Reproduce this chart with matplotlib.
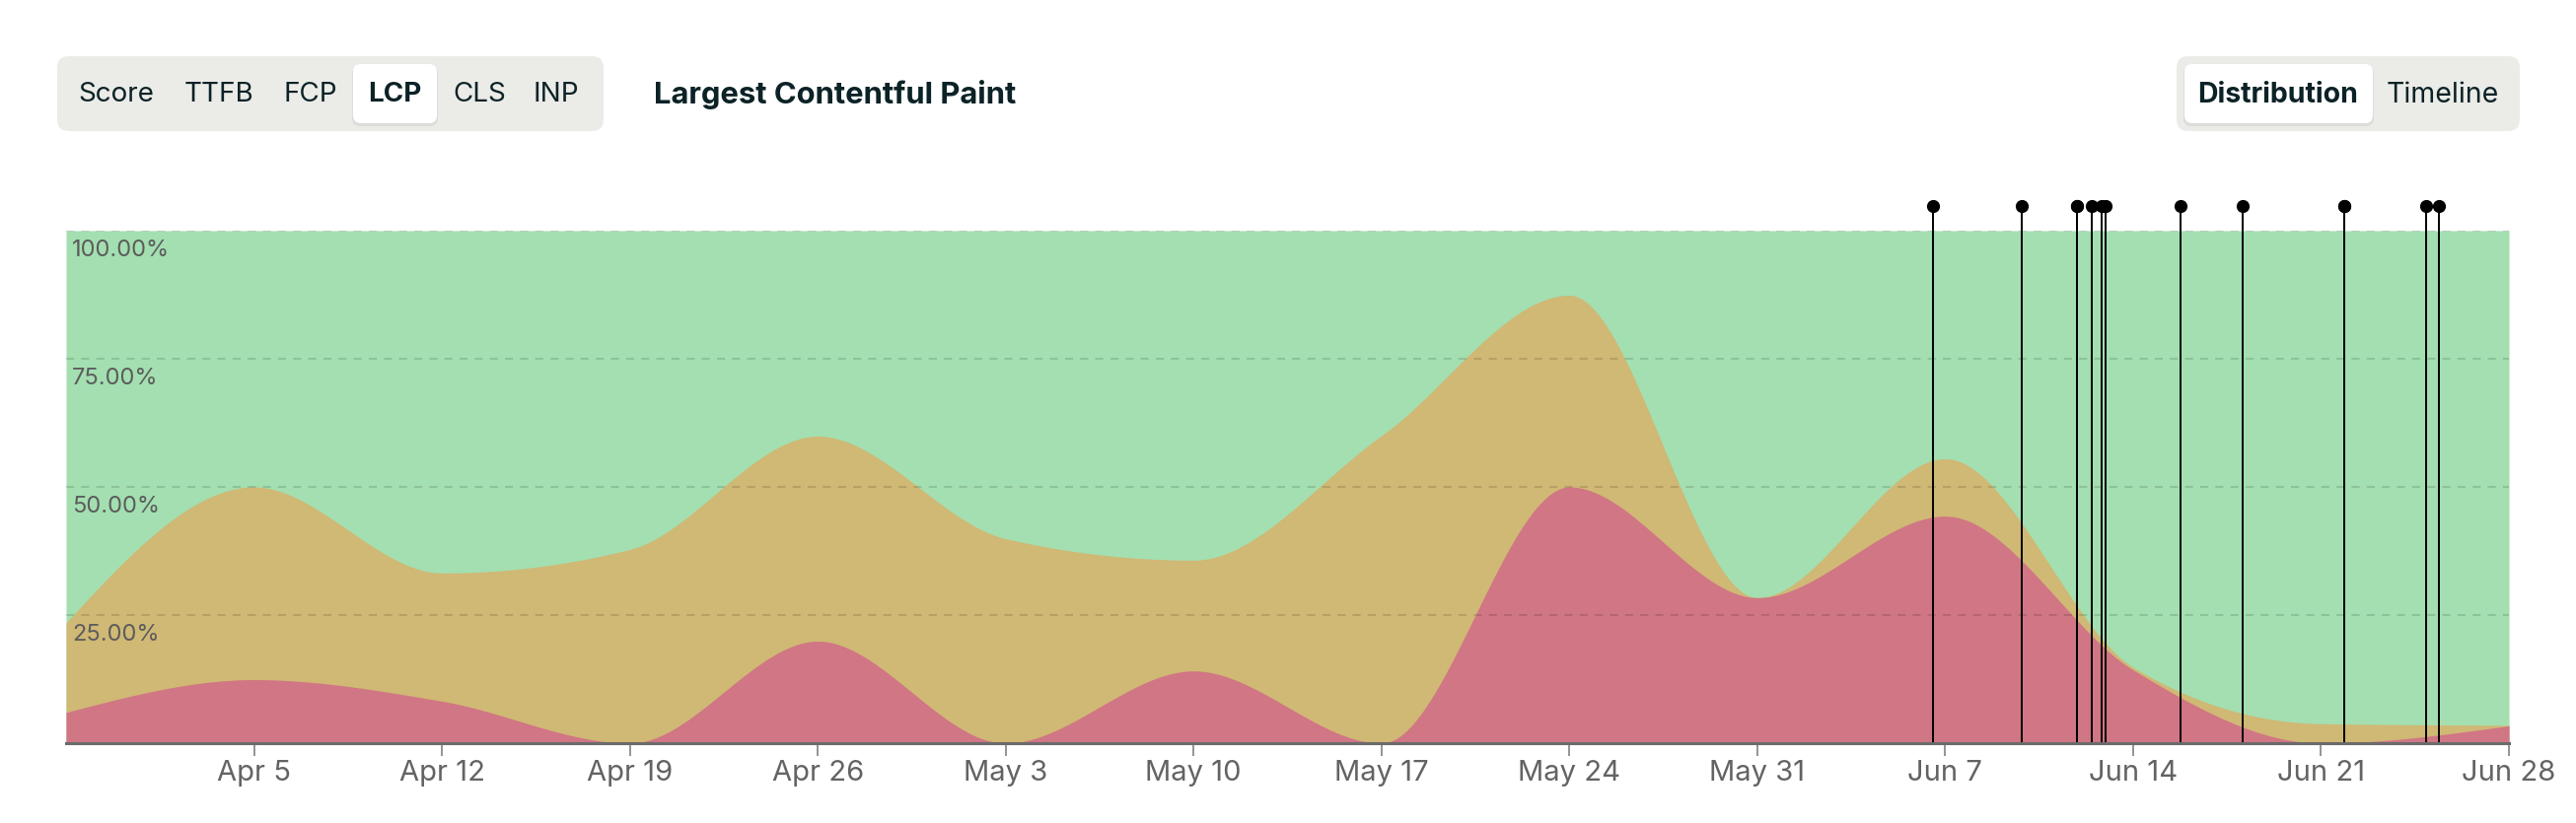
import numpy as np
import pandas as pd
import matplotlib
matplotlib.use("Agg")
import matplotlib.pyplot as plt
import matplotlib.dates as mdates
from matplotlib.patches import FancyBboxPatch
from matplotlib.transforms import offset_copy

plt.rcParams["font.family"] = ["Inter", "DejaVu Sans"]

# weekly LCP distribution (percent of page loads)
weeks = ["2024-03-29", "2024-04-05", "2024-04-12", "2024-04-19", "2024-04-26",
         "2024-05-03", "2024-05-10", "2024-05-17", "2024-05-24", "2024-05-31",
         "2024-06-07", "2024-06-14", "2024-06-21", "2024-06-28"]
poorPct = [6.0, 12.4, 8.2, 0.0, 19.9, 0.0, 14.1, 0.0, 50.0, 28.4, 44.3, 14.3, 0.0, 3.4]
needsImprovementPct = [17.5, 37.6, 25.0, 37.8, 40.0, 39.9, 21.6, 60.0, 37.4, 0.0, 11.2, 0.5, 3.8, 0.1]

# deploy markers
deployTimes = ["2024-06-06 13:00", "2024-06-09 20:30", "2024-06-11 21:30", "2024-06-11 21:40",
               "2024-06-12 11:00", "2024-06-12 20:00", "2024-06-12 23:20", "2024-06-15 18:10",
               "2024-06-18 02:00", "2024-06-21 20:30", "2024-06-21 20:45", "2024-06-24 21:50",
               "2024-06-25 09:20"]

tickLabels = ["Apr 5", "Apr 12", "Apr 19", "Apr 26", "May 3", "May 10", "May 17",
              "May 24", "May 31", "Jun 7", "Jun 14", "Jun 21", "Jun 28"]
yTicks = [25, 50, 75, 100]

metricTabs = ["Score", "TTFB", "FCP", "LCP", "CLS", "INP"]
activeTab = "LCP"
chartTitle = "Largest Contentful Paint"
viewTabs = ["Distribution", "Timeline"]
activeView = "Distribution"

GOOD = "#a3dfb0"
NEEDS = "#d0b875"
POOR = "#d07684"
INK = "#0b2226"


def monotoneCurve(x, y, steps=60):
    # same idea as d3.curveMonotoneX
    x = np.asarray(x, float)
    y = np.asarray(y, float)
    n = len(x)
    h = np.diff(x)
    s = np.diff(y) / h
    t = np.zeros(n)
    for i in range(1, n - 1):
        p = (s[i - 1] * h[i] + s[i] * h[i - 1]) / (h[i - 1] + h[i])
        t[i] = (np.sign(s[i - 1]) + np.sign(s[i])) * min(abs(s[i - 1]), abs(s[i]), 0.5 * abs(p))
    t[0] = (3 * s[0] - t[1]) / 2
    t[-1] = (3 * s[-1] - t[-2]) / 2
    xs, ys = [], []
    u = np.linspace(0, 1, steps)
    for i in range(n - 1):
        h00 = 2 * u**3 - 3 * u**2 + 1
        h10 = u**3 - 2 * u**2 + u
        h01 = -2 * u**3 + 3 * u**2
        h11 = u**3 - u**2
        xs.append(x[i] + u * h[i])
        ys.append(h00 * y[i] + h10 * h[i] * t[i] + h01 * y[i + 1] + h11 * h[i] * t[i + 1])
    return np.concatenate(xs), np.concatenate(ys)


fig = plt.figure(figsize=(26.12, 8.35), dpi=100)
fig.patch.set_facecolor("white")
ax = fig.add_axes([67 / 2612, 81 / 835, 2477 / 2612, 520 / 835])

xDates = mdates.date2num(pd.to_datetime(weeks))
poor = np.array(poorPct)
top = poor + np.array(needsImprovementPct)

cx, poorCurve = monotoneCurve(xDates, poor)
_, topCurve = monotoneCurve(xDates, top)

ax.fill_between(cx, 0, 100, color=GOOD, linewidth=0, zorder=1)
ax.fill_between(cx, 0, topCurve, color=NEEDS, linewidth=0, zorder=2)
ax.fill_between(cx, 0, np.clip(poorCurve, 0, None), color=POOR, linewidth=0, zorder=3)

ax.set_xlim(xDates[0], xDates[-1])
ax.set_ylim(0, 100)

for v in yTicks:
    ax.axhline(v, color="black", alpha=0.14, linewidth=1.3, dashes=(4.5, 4), zorder=4)
    ax.text(xDates[0], v, f"{v:.2f}%", fontsize=17, color="#5c5c5c", ha="left", va="top",
            transform=offset_copy(ax.transData, fig=fig, x=4.5, y=-6.5, units="points"), zorder=5)

deployNums = mdates.date2num(pd.to_datetime(deployTimes))
for d in deployNums:
    ax.plot([d, d], [0, 104.8], color="black", linewidth=1.4, clip_on=False, zorder=6)
    ax.plot([d], [104.8], marker="o", markersize=8.5, color="black", clip_on=False, zorder=7)

ax.set_xticks(xDates[1:])
ax.set_xticklabels(tickLabels)
ax.set_yticks([])
ax.tick_params(axis="x", length=9, width=1.1, color="#777777", labelsize=21,
               labelcolor="#636363", pad=3.5)
for side in ["top", "left", "right"]:
    ax.spines[side].set_visible(False)
ax.spines["bottom"].set_color("#6b6b6b")
ax.spines["bottom"].set_linewidth(2.2)
ax.spines["bottom"].set_zorder(8)

# header controls drawn in pixel space
ui = fig.add_axes([0, 0, 1, 1], zorder=-1)
ui.set_xlim(0, 2612)
ui.set_ylim(835, 0)
ui.axis("off")

ui.add_patch(FancyBboxPatch((58, 57), 554, 76, boxstyle="round,pad=0,rounding_size=12",
                            facecolor="#ebebe8", edgecolor="none"))
tabCenters = [118, 222, 315, 400, 486, 564]
for name, cxp in zip(metricTabs, tabCenters):
    if name == activeTab:
        ui.add_patch(FancyBboxPatch((357, 67), 87, 61, boxstyle="round,pad=0,rounding_size=8",
                                    facecolor="#000000", alpha=0.06, edgecolor="none"))
        ui.add_patch(FancyBboxPatch((358, 65), 85, 60, boxstyle="round,pad=0,rounding_size=8",
                                    facecolor="white", edgecolor="none"))
    ui.text(cxp, 96, name, fontsize=20, color=INK, ha="center", va="center",
            fontweight="bold" if name == activeTab else "normal")

ui.text(663, 96, chartTitle, fontsize=22.3, color=INK, ha="left", va="center", fontweight="bold")

ui.add_patch(FancyBboxPatch((2207, 57), 348, 76, boxstyle="round,pad=0,rounding_size=12",
                            facecolor="#ebebe8", edgecolor="none"))
viewCenters = [2310, 2477]
for name, cxp in zip(viewTabs, viewCenters):
    if name == activeView:
        ui.add_patch(FancyBboxPatch((2214, 67), 193, 61, boxstyle="round,pad=0,rounding_size=8",
                                    facecolor="#000000", alpha=0.06, edgecolor="none"))
        ui.add_patch(FancyBboxPatch((2215, 65), 191, 60, boxstyle="round,pad=0,rounding_size=8",
                                    facecolor="white", edgecolor="none"))
    ui.text(cxp, 96, name, fontsize=20.5, color=INK, ha="center", va="center",
            fontweight="bold" if name == activeView else "normal")

fig.savefig("out.png", dpi=100, facecolor="white")
